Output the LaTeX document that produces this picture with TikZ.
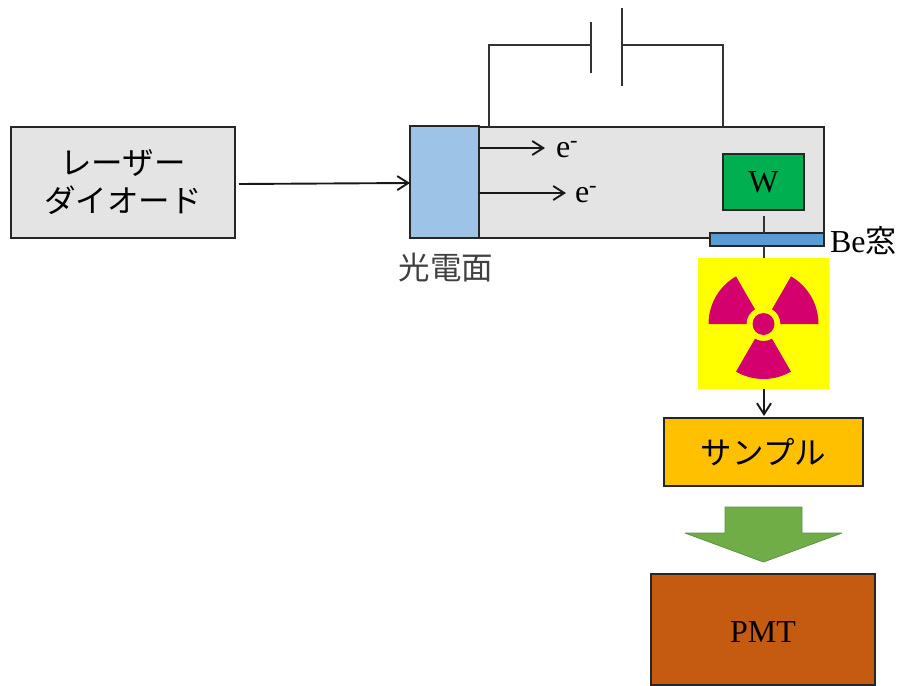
\documentclass[tikz,border=0pt]{standalone}
\usepackage{fontspec}
\setmainfont{Liberation Serif}
\newfontfamily\jpfont{Noto Sans CJK JP}
\usetikzlibrary{arrows.meta,calc}
\definecolor{boxgray}{HTML}{E4E4E4}
\definecolor{photoblue}{HTML}{9DC3E6}
\definecolor{wgreen}{HTML}{00B050}
\definecolor{bewin}{HTML}{5B9BD5}
\definecolor{samp}{HTML}{FFC000}
\definecolor{arrowgreen}{HTML}{70AD47}
\definecolor{arrowedge}{HTML}{5F8F45}
\definecolor{pmtbrown}{HTML}{C55A11}
\definecolor{radmag}{HTML}{D4006E}
\definecolor{radyellow}{HTML}{FFFF00}
\definecolor{labgray}{HTML}{404040}
\tikzset{
  boxnode/.style={draw=black!85,line width=2pt,inner sep=0pt,outer sep=0pt,anchor=north west,align=center},
  wire/.style={draw=black!80,line width=1.9pt},
  arr/.style={draw=black!90,line width=1.9pt,-{Straight Barb[length=11pt,width=14pt,line width=1.9pt]}},
  lab/.style={inner sep=0pt,outer sep=0pt,font=\fontsize{32}{38}\selectfont},
  jp/.style={inner sep=0pt,outer sep=0pt,font=\fontsize{31.5}{38}\selectfont\jpfont}
}
\begin{document}
\begin{tikzpicture}[x=1pt,y=1pt]
\useasboundingbox (0,0) rectangle (898,-686);
% tube and contents
\node[boxnode,fill=boxgray,minimum width=224pt,minimum height=111pt,jp] (laser) at (11,-127) {\raisebox{-1.5pt}{レーザー}\\\raisebox{-1.5pt}{ダイオード}};
\node[boxnode,fill=boxgray,minimum width=414pt,minimum height=111pt] (tube) at (410,-127) {};
\node[boxnode,fill=photoblue,minimum width=69pt,minimum height=112pt] (photo) at (410,-126) {};
\node[boxnode,fill=wgreen,minimum width=81pt,minimum height=56pt,lab] (w) at (723,-154) {\raisebox{-1pt}{W}};
\node[boxnode,fill=bewin,minimum width=114pt,minimum height=13pt] (be) at (710,-233) {};
\node[lab,anchor=west] (belab) at (830,-241) {Be{\jpfont\fontsize{31}{38}\selectfont 窓}};
\node[jp,text=labgray] (photolab) at (446,-268) {光電面};
% radiation sign
\node[fill=radyellow,inner sep=0pt,outer sep=0pt,anchor=north west,minimum width=131pt,minimum height=131pt] (rad) at (698,-258) {};
\coordinate (c) at (763.5,-324);
\foreach \a in {0,120,240}{
  \fill[radmag] ($(c)+(\a:17pt)$) -- ($(c)+(\a:55pt)$) arc[start angle=\a,end angle=\a+60,radius=55pt] -- ($(c)+(\a+60:17pt)$) arc[start angle=\a+60,end angle=\a,radius=17pt] -- cycle;
}
\fill[radmag] (c) circle[radius=11pt];
% lower boxes
\node[boxnode,fill=samp,minimum width=199pt,minimum height=68pt,jp] (sample) at (664,-418) {サンプル};
\node[boxnode,fill=pmtbrown,minimum width=224pt,minimum height=111pt,lab,text height=30pt,text depth=4pt] (pmt) at (651,-574) {PMT};
\path[draw=arrowedge,fill=arrowgreen,line width=0.8pt,line join=bevel] (725,-507) -- (802,-507) -- (802,-533) -- (842,-533) -- (763.5,-562) -- (685,-533) -- (725,-533) -- cycle;
% capacitor circuit
\coordinate (pa1) at (591,-22);
\coordinate (pa2) at (591,-73);
\coordinate (pb1) at (622,-8);
\coordinate (pb2) at (622,-86);
\coordinate (wa) at (591,-45);
\coordinate (wb) at (622,-45);
\coordinate (ta) at (489,-127);
\coordinate (tb) at (723,-127);
\draw[wire] (pa1) -- (pa2);
\draw[wire] (pb1) -- (pb2);
\draw[wire] (ta) |- (wa);
\draw[wire] (tb) |- (wb);
% beam arrows
\coordinate (l0) at (239,-184);
\coordinate (l1) at (410,-183);
\draw[arr] (l0) -- (l1);
\node[lab,anchor=base west] (e1) at (556,-157) {e\textsuperscript{-}};
\node[lab,anchor=base west] (e2) at (575,-202) {e\textsuperscript{-}};
\coordinate (a1s) at (479,-148);
\coordinate (a1e) at (545,-148);
\coordinate (a2s) at (479,-193);
\coordinate (a2e) at (566,-193);
\draw[arr] (a1s) -- (a1e);
\draw[arr] (a2s) -- (a2e);
% x-ray line
\coordinate (x0) at (764,-216);
\coordinate (x1) at (764,-233);
\coordinate (x2) at (764,-246);
\coordinate (x3) at (764,-258);
\coordinate (x4) at (764,-389);
\coordinate (x5) at (764,-416);
\draw[wire] (x0) -- (x1);
\draw[wire] (x2) -- (x3);
\draw[arr] (x4) -- (x5);
\end{tikzpicture}
\end{document}
